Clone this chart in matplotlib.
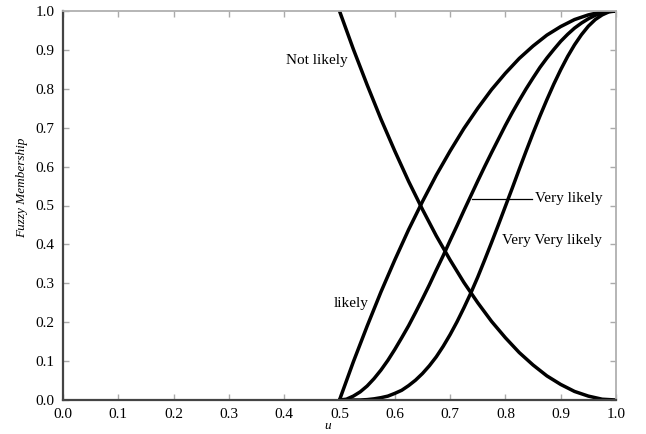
import matplotlib
matplotlib.use("Agg")
import matplotlib.pyplot as plt

u = [0.5000, 0.5125, 0.5250, 0.5375, 0.5500, 0.5625, 0.5750, 0.5875, 0.6000, 0.6125,
     0.6250, 0.6375, 0.6500, 0.6625, 0.6750, 0.6875, 0.7000, 0.7125, 0.7250, 0.7375,
     0.7500, 0.7625, 0.7750, 0.7875, 0.8000, 0.8125, 0.8250, 0.8375, 0.8500, 0.8625,
     0.8750, 0.8875, 0.9000, 0.9125, 0.9250, 0.9375, 0.9500, 0.9625, 0.9750, 0.9875,
     1.0000]
likely = [0.000, 0.049, 0.098, 0.144, 0.190, 0.234, 0.278, 0.319, 0.360, 0.399,
          0.438, 0.474, 0.510, 0.544, 0.578, 0.609, 0.640, 0.669, 0.698, 0.724,
          0.750, 0.774, 0.798, 0.819, 0.840, 0.859, 0.878, 0.894, 0.910, 0.924,
          0.938, 0.949, 0.960, 0.969, 0.978, 0.984, 0.990, 0.994, 0.998, 0.999,
          1.000]
very_likely = [0.000, 0.002, 0.010, 0.021, 0.036, 0.055, 0.077, 0.102, 0.130, 0.160,
               0.191, 0.225, 0.260, 0.296, 0.334, 0.371, 0.410, 0.448, 0.487, 0.525,
               0.563, 0.600, 0.636, 0.671, 0.706, 0.739, 0.770, 0.800, 0.828, 0.855,
               0.879, 0.901, 0.922, 0.940, 0.956, 0.969, 0.980, 0.989, 0.995, 0.999,
               1.000]
very_very_likely = [0.000, 0.000, 0.000, 0.000, 0.001, 0.003, 0.006, 0.010, 0.017, 0.025,
                    0.037, 0.051, 0.068, 0.088, 0.111, 0.138, 0.168, 0.201, 0.237, 0.275,
                    0.316, 0.360, 0.405, 0.451, 0.498, 0.545, 0.593, 0.640, 0.686, 0.730,
                    0.772, 0.812, 0.849, 0.883, 0.913, 0.939, 0.961, 0.978, 0.990, 0.998,
                    1.000]
not_likely = [1.000, 0.951, 0.902, 0.856, 0.810, 0.766, 0.722, 0.681, 0.640, 0.601,
              0.562, 0.526, 0.490, 0.456, 0.422, 0.391, 0.360, 0.331, 0.302, 0.276,
              0.250, 0.226, 0.202, 0.181, 0.160, 0.141, 0.122, 0.106, 0.090, 0.076,
              0.062, 0.051, 0.040, 0.031, 0.022, 0.016, 0.010, 0.006, 0.002, 0.001,
              0.000]

ticks = [0.0, 0.1, 0.2, 0.3, 0.4, 0.5, 0.6, 0.7, 0.8, 0.9, 1.0]
tick_labels = ["0.0", "0.1", "0.2", "0.3", "0.4", "0.5", "0.6", "0.7", "0.8", "0.9", "1.0"]

plt.rcParams['font.family'] = ['Liberation Serif', 'DejaVu Serif']

fig = plt.figure(figsize=(6.46, 4.34), dpi=100)
ax = fig.add_axes([63/646, 34/434, (616-63)/646, (400-11)/434])

for ys in (likely, very_likely, very_very_likely, not_likely):
    ax.plot(u, ys, color='black', lw=2.5, solid_capstyle='round', solid_joinstyle='round')

ax.set_xlim(0, 1)
ax.set_ylim(0, 1)
ax.set_xticks(ticks)
ax.set_xticklabels(tick_labels)
ax.set_yticks(ticks)
ax.set_yticklabels(tick_labels)
ax.tick_params(direction='in', length=4, width=1, color='#aaaaaa',
               top=True, right=True, labelsize=11, pad=6)

for s in ('left', 'bottom'):
    ax.spines[s].set_color('#444444')
    ax.spines[s].set_linewidth(1.6)
for s in ('top', 'right'):
    ax.spines[s].set_color('#b0b0b0')
    ax.spines[s].set_linewidth(1.3)

ax.set_ylabel('Fuzzy Membership', fontstyle='italic', fontsize=9.5)
ax.yaxis.set_label_coords(-0.063, 0.545)
ax.set_xlabel('u', fontstyle='italic', fontsize=9.5, va='top')
ax.xaxis.set_label_coords(0.479, -0.052)

ax.text(0.515, 0.874, 'Not likely', ha='right', va='center', fontsize=11)
ax.text(0.552, 0.247, 'likely', ha='right', va='center', fontsize=11)
ax.plot([0.739, 0.848], [0.517, 0.517], color='black', lw=0.9)
ax.text(0.853, 0.517, 'Very likely', ha='left', va='center', fontsize=11)
ax.text(0.793, 0.41, 'Very Very likely', ha='left', va='center', fontsize=11)

fig.savefig('out.png', dpi=100)
